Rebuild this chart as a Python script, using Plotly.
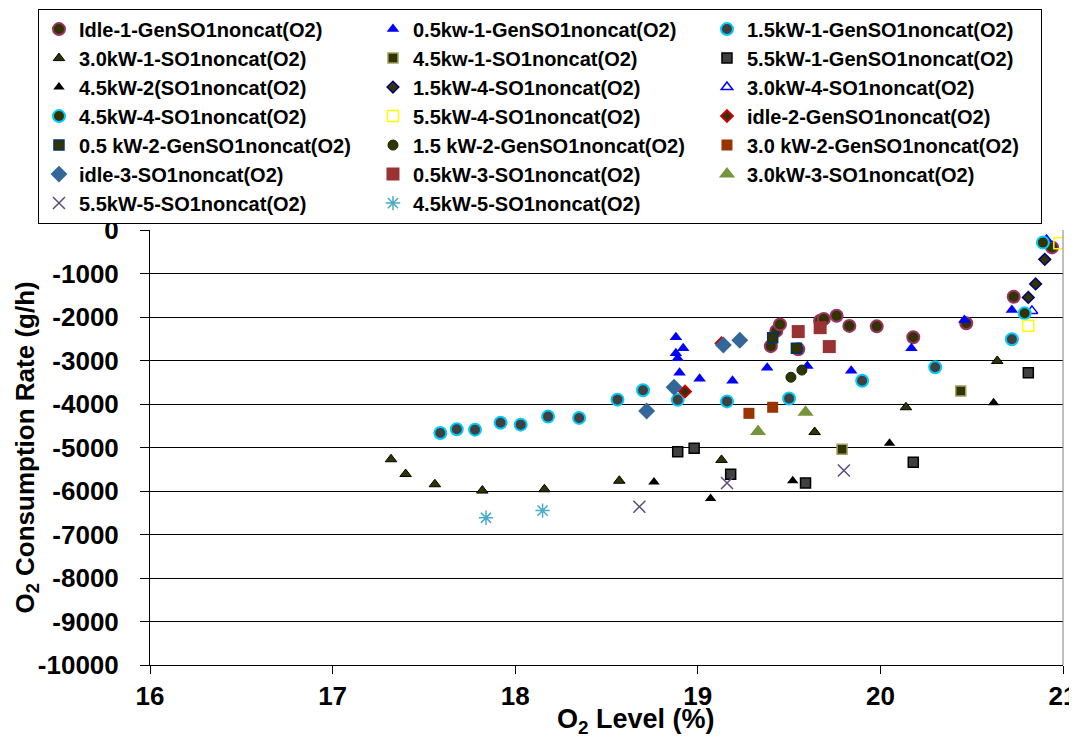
import plotly.graph_objects as go

FONT = "Arial, 'Liberation Sans', sans-serif"

# O2 level (%) and O2 consumption rate (g/h) per test run
idle1_x = [19.40, 19.43, 19.45, 19.55, 19.67, 19.69, 19.76, 19.83, 19.98, 20.18, 20.47, 20.73, 20.94]
idle1_y = [-2670, -2320, -2170, -2740, -2085, -2045, -1970, -2205, -2215, -2465, -2145, -1535, -400]

kw05_1_x = [18.88, 18.92, 18.88, 18.89, 18.90, 19.01, 19.19, 19.38, 19.60, 19.84, 20.17, 20.46, 20.72, 20.91]
kw05_1_y = [-2465, -2720, -2835, -2950, -3280, -3420, -3465, -3165, -3125, -3235, -2720, -2070, -1840, -215]

kw15_1_x = [17.59, 17.68, 17.78, 17.92, 18.03, 18.18, 18.35, 18.56, 18.70, 18.89, 19.16, 19.50, 19.90, 20.30, 20.72]
kw15_1_y = [-4665, -4580, -4590, -4430, -4475, -4290, -4320, -3900, -3685, -3905, -3940, -3875, -3465, -3155, -2510]

kw30_1_x = [17.32, 17.40, 17.56, 17.82, 18.16, 18.57, 19.13, 19.64, 20.14, 20.64]
kw30_1_y = [-5270, -5610, -5845, -5990, -5960, -5765, -5285, -4645, -4075, -3010]

kw45_1_x = [19.79, 20.44]
kw45_1_y = [-5040, -3700]

kw55_1_x = [18.89, 18.98, 19.18, 19.59, 20.18, 20.81]
kw55_1_y = [-5095, -5020, -5615, -5815, -5340, -3280]

kw45_2_x = [18.76, 19.07, 19.52, 20.05, 20.62]
kw45_2_y = [-5795, -6175, -5765, -4905, -3970]

kw15_4_x = [20.81, 20.85, 20.90]
kw15_4_y = [-1550, -1240, -675]

kw30_4_x = [20.83]
kw30_4_y = [-1860]

kw45_4_x = [20.79, 20.89]
kw45_4_y = [-1915, -290]

kw55_4_x = [20.81, 20.98]
kw55_4_y = [-2200, -305]

idle2_x = [18.93, 19.13]
idle2_y = [-3715, -2605]

kw05_2_x = [19.41, 19.54]
kw05_2_y = [-2475, -2720]

kw15_2_x = [19.51, 19.57]
kw15_2_y = [-3385, -3220]

kw30_2_x = [19.28, 19.41]
kw30_2_y = [-4215, -4075]

idle3_x = [18.72, 18.87, 19.14, 19.23]
idle3_y = [-4160, -3615, -2645, -2535]

kw05_3_x = [19.55, 19.67, 19.72]
kw05_3_y = [-2335, -2245, -2680]

kw30_3_x = [19.33, 19.59]
kw30_3_y = [-4635, -4190]

kw55_5_x = [18.68, 19.16, 19.80]
kw55_5_y = [-6360, -5815, -5530]

kw45_5_x = [17.84, 18.15]
kw45_5_y = [-6615, -6450]

Y_TICKS = list(range(-10000, 1, 1000))
Y_LABELS = [str(v) for v in Y_TICKS]
X_TICKS = [16, 17, 18, 19, 20, 21]

SERIES = [
    ("Idle-1-GenSO1noncat(O2)", idle1_x, idle1_y,
     dict(symbol="circle", size=12, color="#333300", line=dict(color="#993366", width=2))),
    ("0.5kw-1-GenSO1noncat(O2)", kw05_1_x, kw05_1_y,
     dict(symbol="triangle-up", size=11, color="#0000ff", line=dict(width=0))),
    ("1.5kW-1-GenSO1noncat(O2)", kw15_1_x, kw15_1_y,
     dict(symbol="circle", size=12, color="#404040", line=dict(color="#00ccff", width=2))),
    ("3.0kW-1-SO1noncat(O2)", kw30_1_x, kw30_1_y,
     dict(symbol="triangle-up", size=10, color="#333300", line=dict(color="black", width=1))),
    ("4.5kw-1-SO1noncat(O2)", kw45_1_x, kw45_1_y,
     dict(symbol="square", size=10, color="#333300", line=dict(color="#a0a060", width=1.5))),
    ("5.5kW-1-GenSO1noncat(O2)", kw55_1_x, kw55_1_y,
     dict(symbol="square", size=10, color="#404040", line=dict(color="black", width=1.5))),
    ("4.5kW-2(SO1noncat(O2)", kw45_2_x, kw45_2_y,
     dict(symbol="triangle-up", size=10, color="black", line=dict(width=0))),
    ("1.5kW-4-SO1noncat(O2)", kw15_4_x, kw15_4_y,
     dict(symbol="diamond", size=9, color="#333300", line=dict(color="#000080", width=1.5))),
    ("3.0kW-4-SO1noncat(O2)", kw30_4_x, kw30_4_y,
     dict(symbol="triangle-up-open", size=10, color="#0000ff", line=dict(width=1.5))),
    ("4.5kW-4-SO1noncat(O2)", kw45_4_x, kw45_4_y,
     dict(symbol="circle", size=12, color="#333300", line=dict(color="#00ccff", width=2))),
    ("5.5kW-4-SO1noncat(O2)", kw55_4_x, kw55_4_y,
     dict(symbol="square-open", size=11, color="#ffff00", line=dict(width=1.5))),
    ("idle-2-GenSO1noncat(O2)", idle2_x, idle2_y,
     dict(symbol="diamond", size=9, color="#333300", line=dict(color="#cc0000", width=2))),
    ("0.5 kW-2-GenSO1noncat(O2)", kw05_2_x, kw05_2_y,
     dict(symbol="square", size=10, color="#333300", line=dict(color="#003366", width=1.5))),
    ("1.5 kW-2-GenSO1noncat(O2)", kw15_2_x, kw15_2_y,
     dict(symbol="circle", size=10, color="#333300", line=dict(color="#003300", width=1))),
    ("3.0 kW-2-GenSO1noncat(O2)", kw30_2_x, kw30_2_y,
     dict(symbol="square", size=11, color="#993300", line=dict(width=0))),
    ("idle-3-SO1noncat(O2)", idle3_x, idle3_y,
     dict(symbol="diamond", size=13, color="#336699", line=dict(width=0))),
    ("0.5kW-3-SO1noncat(O2)", kw05_3_x, kw05_3_y,
     dict(symbol="square", size=13, color="#993333", line=dict(width=0))),
    ("3.0kW-3-SO1noncat(O2)", kw30_3_x, kw30_3_y,
     dict(symbol="triangle-up", size=14, color="#77933c", line=dict(width=0))),
    ("5.5kW-5-SO1noncat(O2)", kw55_5_x, kw55_5_y,
     dict(symbol="x-thin-open", size=12, color="#604a7b", line=dict(color="#604a7b", width=1.5))),
    ("4.5kW-5-SO1noncat(O2)", kw45_5_x, kw45_5_y,
     dict(symbol="asterisk-open", size=12, color="#4bacc6", line=dict(color="#4bacc6", width=1.5))),
]

fig = go.Figure()
for name, xs, ys, marker in SERIES:
    fig.add_trace(go.Scatter(x=xs, y=ys, mode="markers", name=name, marker=marker))

# page body keeps its default 8px margin, so the figure is sized 8px smaller
fig.update_layout(
    width=1069, height=733,
    paper_bgcolor="white", plot_bgcolor="white",
    font=dict(family=FONT, color="black", size=20),
    margin=dict(l=142, r=14, t=222, b=76, autoexpand=False),
    showlegend=True,
    legend=dict(
        orientation="h", x=-0.1227, y=1.509, xanchor="left", yanchor="top",
        entrywidth=289, entrywidthmode="pixels",
        bordercolor="black", borderwidth=1, bgcolor="white",
        font=dict(family=FONT, size=20, color="black", weight="bold"),
        itemsizing="trace", tracegroupgap=0,
    ),
)

fig.update_xaxes(
    range=[16, 21], tickvals=X_TICKS, showgrid=False, zeroline=False,
    showline=True, linecolor="black", linewidth=1, mirror=False, automargin=False,
    ticks="outside", ticklen=8, tickcolor="black", ticklabeloverflow="allow",
    tickfont=dict(family=FONT, size=26, weight="bold"),
)
fig.update_yaxes(
    range=[-10000, 0], tickvals=Y_TICKS, ticktext=Y_LABELS,
    showgrid=True, gridcolor="black", gridwidth=1, automargin=False,
    zeroline=False, showline=True, linecolor="black", linewidth=1,
    ticks="outside", ticklen=9, tickcolor="black", ticklabelstandoff=16,
    tickfont=dict(family=FONT, size=26, weight="bold"),
)

# right-hand frame of the plot area
fig.add_shape(type="line", xref="paper", yref="paper", x0=1, x1=1, y0=0, y1=1,
              line=dict(color="#808080", width=1))

fig.add_annotation(
    text="<b>O<sub>2</sub> Consumption Rate (g/h)</b>", xref="paper", yref="paper",
    x=-0.1358, y=0.5, xanchor="center", yanchor="middle", textangle=-90, showarrow=False,
    font=dict(family=FONT, size=26, color="black"),
)
fig.add_annotation(
    text="<b>O<sub>2</sub> Level (%)</b>", xref="paper", yref="paper",
    x=0.532, y=-0.172, xanchor="center", yanchor="bottom", showarrow=False,
    font=dict(family=FONT, size=27, color="black"),
)

fig.write_html("out.html")
